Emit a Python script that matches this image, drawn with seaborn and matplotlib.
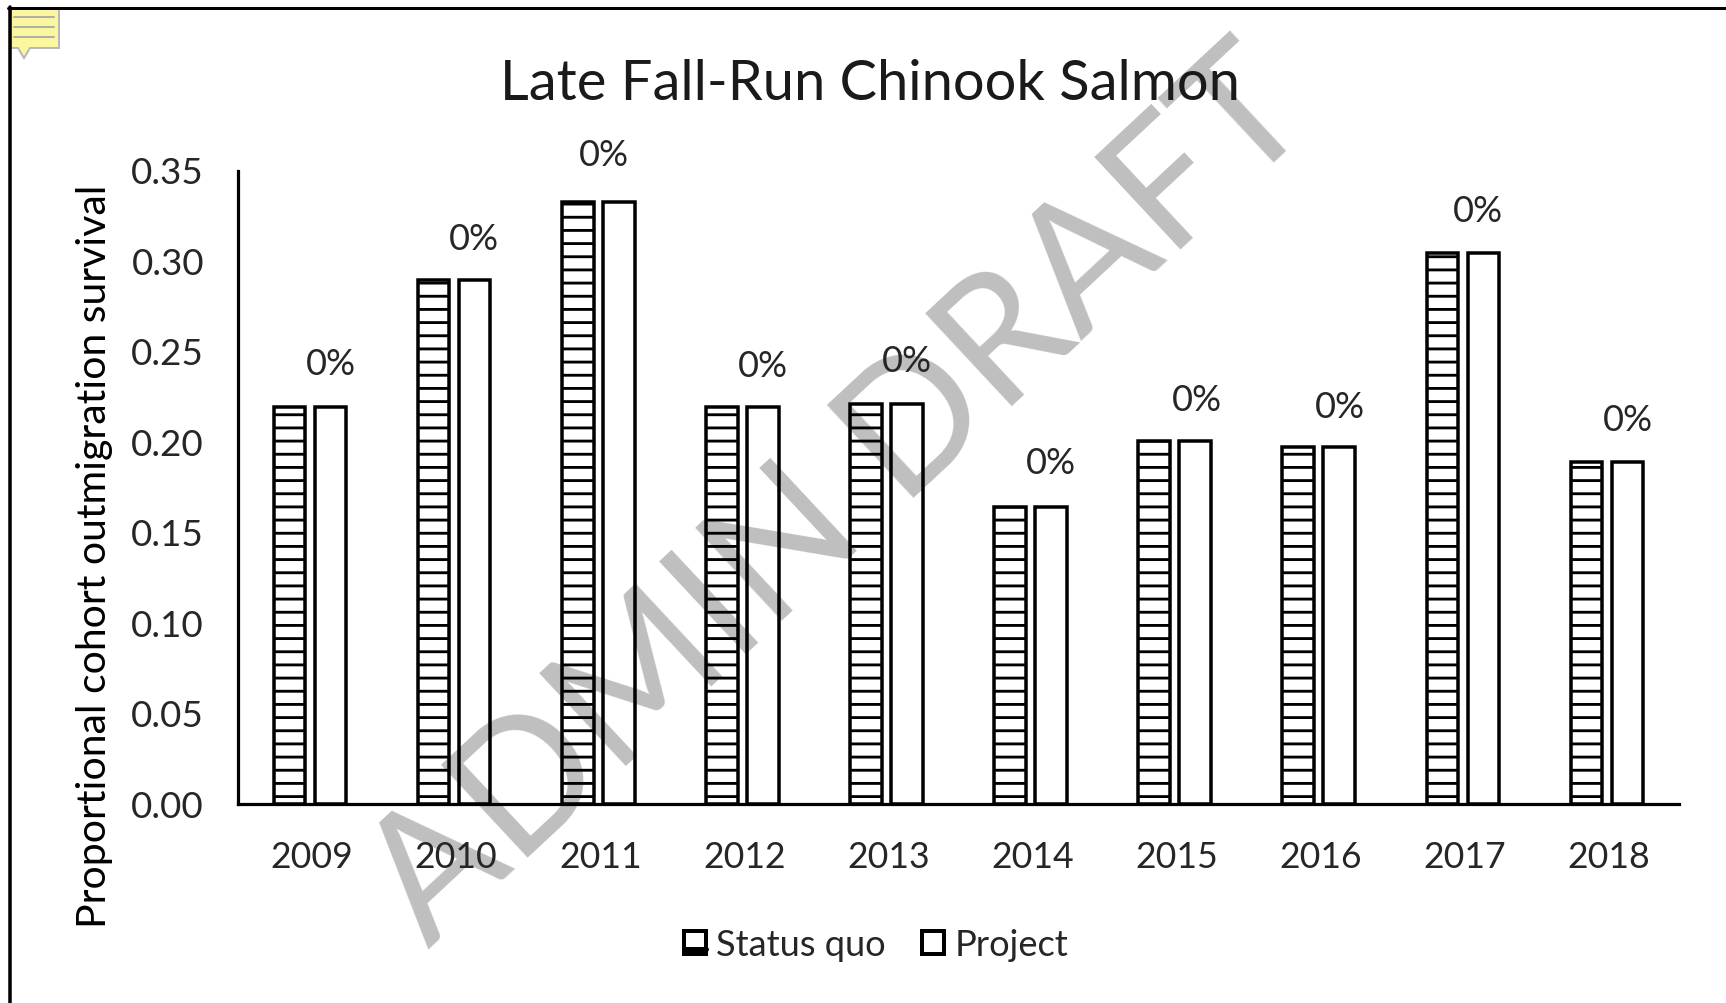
import matplotlib
matplotlib.use("Agg")
import matplotlib.pyplot as plt
from matplotlib.patches import Patch, Polygon
from matplotlib.lines import Line2D
from matplotlib.transforms import ScaledTranslation
import pandas as pd
import seaborn as sns

years = ["2009", "2010", "2011", "2012", "2013", "2014", "2015", "2016", "2017", "2018"]
status_quo = [0.2195, 0.2895, 0.3325, 0.2195, 0.221, 0.164, 0.2005, 0.1975, 0.3045, 0.189]
project = [0.2195, 0.2895, 0.3325, 0.2195, 0.221, 0.164, 0.2005, 0.1975, 0.3045, 0.189]
change_labels = ["0%", "0%", "0%", "0%", "0%", "0%", "0%", "0%", "0%", "0%"]
series_names = ["Status quo", "Project"]
y_ticks = [0.00, 0.05, 0.10, 0.15, 0.20, 0.25, 0.30, 0.35]

# pixel offsets of the hand-placed percentage labels, relative to group centre / bar top
label_dx = [21, 20, 6, 21, 20, 20, 22, 21, 15, 21]
label_dy = [41, 40, 46, 39, 42, 43, 40, 38, 40, 40]

W, H, DPI = 1726, 1003, 79
PX = 72 / DPI
FONT = "Lato"

sns.set_theme(style="white")
plt.rcParams["font.family"] = [FONT, "DejaVu Sans"]
plt.rcParams["hatch.linewidth"] = 2.6
plt.rcParams["hatch.color"] = "black"

df = pd.DataFrame({
    "year": years * 2,
    "value": status_quo + project,
    "series": [series_names[0]] * 10 + [series_names[1]] * 10,
})

fig = plt.figure(figsize=(W / DPI, H / DPI), dpi=DPI, facecolor="white")
ax = fig.add_axes([238 / W, 1 - 804 / H, (1679 - 238) / W, (804 - 170.6) / H])
ax.patch.set_alpha(0)

sns.barplot(data=df, x="year", y="value", hue="series", hue_order=series_names,
            palette=["white", "white"], edgecolor="black", linewidth=3.5 * PX,
            width=0.57, gap=0.23, saturation=1, legend=False, ax=ax, zorder=3)

for i, container in enumerate(ax.containers):
    for bar in container:
        bar.set_facecolor("none")
        bar.set_edgecolor("black")
        if i == 0:
            bar.set_hatch("-")

ax.set_xlim(-0.5, 9.5)
ax.set_ylim(0, 0.35)
ax.set_yticks(y_ticks, [f"{t:.2f}" for t in y_ticks])
ax.tick_params(axis="both", length=0, labelcolor="#262626")
ax.tick_params(axis="x", labelsize=32.5, pad=36.5 * PX)
ax.tick_params(axis="y", labelsize=33.5, pad=34 * PX)
for lab in ax.get_xticklabels():
    lab.set_transform(lab.get_transform() + ScaledTranslation(2 / DPI, 0, fig.dpi_scale_trans))
ax.set_xlabel("")
ax.set_ylabel("Proportional cohort outmigration survival", fontsize=37.4, color="black", va="center")
ax.yaxis.set_label_coords(-0.0995, 0.3915)
for s in ["top", "right"]:
    ax.spines[s].set_visible(False)
for s in ["left", "bottom"]:
    ax.spines[s].set_color("black")
    ax.spines[s].set_linewidth(3.2 * PX)

for i, (lab, v) in enumerate(zip(change_labels, project)):
    ax.annotate(lab, xy=(i, v), xytext=(label_dx[i] * PX, (label_dy[i] + 1) * PX), textcoords="offset points",
                ha="center", va="center", fontsize=33, color="#262626", annotation_clip=False)

handles = [Patch(facecolor="white", edgecolor="black", linewidth=4 * PX),
           Patch(facecolor="white", edgecolor="black", linewidth=4 * PX)]
fig.legend(handles, series_names, loc="center", bbox_to_anchor=(876 / W, 1 - 945 / H), ncol=2,
           frameon=False, fontsize=33, handlelength=0.62, handleheight=0.62, handletextpad=0.28,
           columnspacing=1.0, labelcolor="#262626")
# thick lower edge of the hatched legend key
fig.add_artist(Line2D([684 / W, 706 / W], [1 - 949 / H, 1 - 949 / H], color="black", lw=5 * PX, zorder=6))

fig.text(870 / W, 1 - 84 / H, "Late Fall-Run Chinook Salmon", ha="center", va="center",
         fontsize=51, color="#1a1a1a")

# watermark, behind the transparent chart
fig.text(839.5 / W, 1 - 498 / H, "ADMIN DRAFT", rotation=43, rotation_mode="anchor",
         ha="center", va="center", fontsize=161, color="#bfbfbf", zorder=-1)

# page frame and comment icon
fig.add_artist(Line2D([9.5 / W, 9.5 / W], [0, 1 - 7 / H], color="black", lw=3.5 * PX))
fig.add_artist(Line2D([8 / W, 1], [1 - 7.5 / H, 1 - 7.5 / H], color="black", lw=3 * PX))
icon = [(11, 9), (59, 9), (59, 48), (30, 48), (24, 58), (18, 48), (11, 48)]
fig.add_artist(Polygon([(x / W, 1 - y / H) for x, y in icon], closed=True, facecolor="#fbf6a0",
                       edgecolor="#b8b8b8", lw=2 * PX, transform=fig.transFigure))
for y in (17, 27, 37):
    fig.add_artist(Line2D([14 / W, 54 / W], [1 - y / H, 1 - y / H], color="#b0b0a0", lw=2 * PX))

fig.savefig("out.png", dpi=DPI)
